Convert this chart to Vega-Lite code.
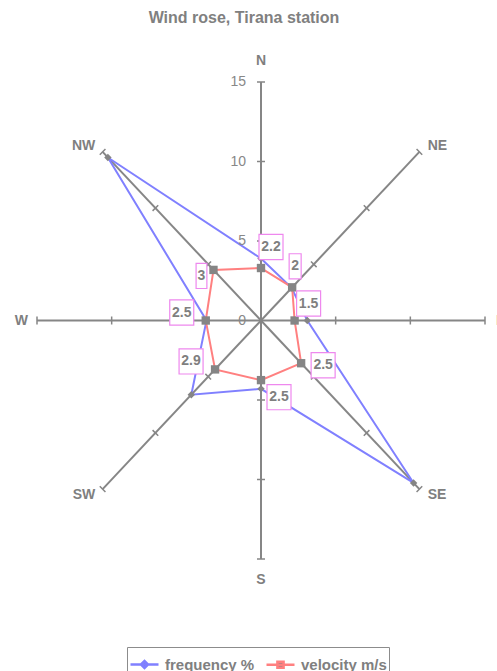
{
  "$schema": "https://vega.github.io/schema/vega-lite/v6.json",
  "width": 448,
  "height": 477,
  "autosize": {"type": "none"},
  "padding": {"left": 37, "top": 82, "right": 12, "bottom": 112},
  "background": "white",
  "config": {"view": {"stroke": null}, "font": "Liberation Sans"},
  "title": {"text": "Wind rose, Tirana station", "fontSize": 16, "fontWeight": "bold", "color": "#808080", "dx": -17, "offset": 28, "font": "Liberation Sans"},
  "datasets": {
    "series": [
      {"dir": "N", "deg": 0, "series": "frequency %", "value": 3.9, "label": ""},
      {"dir": "NE", "deg": 45, "series": "frequency %", "value": 2.9, "label": ""},
      {"dir": "E", "deg": 90, "series": "frequency %", "value": 3.1, "label": ""},
      {"dir": "SE", "deg": 135, "series": "frequency %", "value": 14.45, "label": ""},
      {"dir": "S", "deg": 180, "series": "frequency %", "value": 4.3, "label": ""},
      {"dir": "SW", "deg": 225, "series": "frequency %", "value": 6.6, "label": ""},
      {"dir": "W", "deg": 270, "series": "frequency %", "value": 3.65, "label": ""},
      {"dir": "NW", "deg": 315, "series": "frequency %", "value": 14.5, "label": ""},
      {"dir": "N", "deg": 0, "series": "velocity m/s", "value": 3.3, "label": "2.2"},
      {"dir": "NE", "deg": 45, "series": "velocity m/s", "value": 2.95, "label": "2"},
      {"dir": "E", "deg": 90, "series": "velocity m/s", "value": 2.25, "label": "1.5"},
      {"dir": "SE", "deg": 135, "series": "velocity m/s", "value": 3.8, "label": "2.5"},
      {"dir": "S", "deg": 180, "series": "velocity m/s", "value": 3.75, "label": "2.5"},
      {"dir": "SW", "deg": 225, "series": "velocity m/s", "value": 4.35, "label": "2.9"},
      {"dir": "W", "deg": 270, "series": "velocity m/s", "value": 3.7, "label": "2.5"},
      {"dir": "NW", "deg": 315, "series": "velocity m/s", "value": 4.5, "label": "3"}
    ],
    "dirs": [
      {"dir": "N", "deg": 0}, {"dir": "NE", "deg": 45}, {"dir": "E", "deg": 90}, {"dir": "SE", "deg": 135},
      {"dir": "S", "deg": 180}, {"dir": "SW", "deg": 225}, {"dir": "W", "deg": 270}, {"dir": "NW", "deg": 315}
    ],
    "ticks": [
      {"deg": 0, "r": 5}, {"deg": 0, "r": 10}, {"deg": 0, "r": 15},
      {"deg": 45, "r": 5}, {"deg": 45, "r": 10}, {"deg": 45, "r": 15},
      {"deg": 90, "r": 5}, {"deg": 90, "r": 10}, {"deg": 90, "r": 15},
      {"deg": 135, "r": 5}, {"deg": 135, "r": 10}, {"deg": 135, "r": 15},
      {"deg": 180, "r": 5}, {"deg": 180, "r": 10}, {"deg": 180, "r": 15},
      {"deg": 225, "r": 5}, {"deg": 225, "r": 10}, {"deg": 225, "r": 15},
      {"deg": 270, "r": 5}, {"deg": 270, "r": 10}, {"deg": 270, "r": 15},
      {"deg": 315, "r": 5}, {"deg": 315, "r": 10}, {"deg": 315, "r": 15}
    ],
    "rlabels": [{"r": 0}, {"r": 5}, {"r": 10}, {"r": 15}]
  },
  "data": {"name": "series"},
  "transform": [
    {"calculate": "datum.value*sin(datum.deg*PI/180)", "as": "x"},
    {"calculate": "datum.value*cos(datum.deg*PI/180)", "as": "y"}
  ],
  "layer": [
    {
      "data": {"name": "dirs"},
      "transform": [
        {"calculate": "0", "as": "cx"},
        {"calculate": "15*sin(datum.deg*PI/180)", "as": "ex"},
        {"calculate": "15*cos(datum.deg*PI/180)", "as": "ey"}
      ],
      "mark": {"type": "rule", "color": "#868686", "strokeWidth": 2},
      "encoding": {
        "x": {"field": "cx", "type": "quantitative", "scale": {"domain": [-15, 15], "nice": false, "zero": false}, "axis": null},
        "y": {"field": "cx", "type": "quantitative", "scale": {"domain": [-15, 15], "nice": false, "zero": false}, "axis": null},
        "x2": {"field": "ex"},
        "y2": {"field": "ey"}
      }
    },
    {
      "data": {"name": "ticks"},
      "transform": [
        {"calculate": "datum.r*sin(datum.deg*PI/180)", "as": "tx"},
        {"calculate": "datum.r*cos(datum.deg*PI/180)", "as": "ty"}
      ],
      "mark": {"type": "point", "shape": "M-1,0L1,0", "filled": false, "stroke": "#868686", "strokeWidth": 1.5, "size": 64, "opacity": 1},
      "encoding": {
        "x": {"field": "tx", "type": "quantitative", "scale": {"domain": [-15, 15], "nice": false, "zero": false}, "axis": null},
        "y": {"field": "ty", "type": "quantitative", "scale": {"domain": [-15, 15], "nice": false, "zero": false}, "axis": null},
        "angle": {"field": "deg", "type": "quantitative", "scale": null}
      }
    },
    {
      "mark": {"type": "line", "interpolate": "linear-closed", "strokeWidth": 2},
      "encoding": {
        "x": {"field": "x", "type": "quantitative", "scale": {"domain": [-15, 15], "nice": false, "zero": false}, "axis": null},
        "y": {"field": "y", "type": "quantitative", "scale": {"domain": [-15, 15], "nice": false, "zero": false}, "axis": null},
        "order": {"field": "deg", "type": "quantitative"},
        "color": {
          "field": "series", "type": "nominal",
          "scale": {"domain": ["frequency %", "velocity m/s"], "range": ["#8080ff", "#ff8080"]},
          "legend": {
            "orient": "none", "legendX": 90, "legendY": 565, "direction": "horizontal", "title": null,
            "strokeColor": "#8c8c8c", "padding": 2, "labelFontSize": 15, "labelFontWeight": "bold",
            "labelColor": "#808080", "labelFont": "Liberation Sans", "symbolSize": 784, "symbolStrokeWidth": 2.5,
            "labelOffset": 5, "columnPadding": 6,
            "encode": {"symbols": {"update": {
              "shape": {"signal": "datum.value === 'frequency %' ? 'M-1,0H1M-0.25,0L0,-0.25L0.25,0L0,0.25Z' : 'M-1,0H1M-0.22,-0.22H0.22V0.22H-0.22Z'"},
              "fill": {"value": "#858585"}
            }}}
          }
        }
      }
    },
    {
      "mark": {"type": "point", "filled": true, "color": "#858585", "opacity": 1},
      "encoding": {
        "x": {"field": "x", "type": "quantitative", "scale": {"domain": [-15, 15], "nice": false, "zero": false}, "axis": null},
        "y": {"field": "y", "type": "quantitative", "scale": {"domain": [-15, 15], "nice": false, "zero": false}, "axis": null},
        "shape": {"condition": {"test": "datum.series === 'frequency %'", "value": "diamond"}, "value": "square"},
        "size": {"condition": {"test": "datum.series === 'frequency %'", "value": 55}, "value": 70}
      }
    },
    {
      "transform": [{"filter": "datum.dir === 'N'"}, {"filter": "datum.series === 'velocity m/s'"}],
      "encoding": {
        "x": {"field": "x", "type": "quantitative", "scale": {"domain": [-15, 15], "nice": false, "zero": false}, "axis": null},
        "y": {"field": "y", "type": "quantitative", "scale": {"domain": [-15, 15], "nice": false, "zero": false}, "axis": null}
      },
      "layer": [
        {"mark": {"type": "point", "filled": true, "fill": "white", "stroke": "#ee88ee", "strokeWidth": 1.2, "opacity": 1, "size": 576, "shape": "M-0.1667,-2.8H1.8333V-0.7H-0.1667Z"}},
        {"mark": {"type": "text", "fontSize": 14, "fontWeight": "bold", "color": "#7f7f7f", "align": "center", "baseline": "middle", "dx": 10, "dy": -21},
         "encoding": {"text": {"field": "label", "type": "nominal"}}}
      ]
    },
    {
      "transform": [{"filter": "datum.dir === 'NE'"}, {"filter": "datum.series === 'velocity m/s'"}],
      "encoding": {
        "x": {"field": "x", "type": "quantitative", "scale": {"domain": [-15, 15], "nice": false, "zero": false}, "axis": null},
        "y": {"field": "y", "type": "quantitative", "scale": {"domain": [-15, 15], "nice": false, "zero": false}, "axis": null}
      },
      "layer": [
        {"mark": {"type": "point", "filled": true, "fill": "white", "stroke": "#ee88ee", "strokeWidth": 1.2, "opacity": 1, "size": 576, "shape": "M-0.25,-2.8H0.75V-0.7H-0.25Z"}},
        {"mark": {"type": "text", "fontSize": 14, "fontWeight": "bold", "color": "#7f7f7f", "align": "center", "baseline": "middle", "dx": 3, "dy": -21},
         "encoding": {"text": {"field": "label", "type": "nominal"}}}
      ]
    },
    {
      "transform": [{"filter": "datum.dir === 'E'"}, {"filter": "datum.series === 'velocity m/s'"}],
      "encoding": {
        "x": {"field": "x", "type": "quantitative", "scale": {"domain": [-15, 15], "nice": false, "zero": false}, "axis": null},
        "y": {"field": "y", "type": "quantitative", "scale": {"domain": [-15, 15], "nice": false, "zero": false}, "axis": null}
      },
      "layer": [
        {"mark": {"type": "point", "filled": true, "fill": "white", "stroke": "#ee88ee", "strokeWidth": 1.2, "opacity": 1, "size": 576, "shape": "M0.1667,-2.4667H2.1667V-0.3667H0.1667Z"}},
        {"mark": {"type": "text", "fontSize": 14, "fontWeight": "bold", "color": "#7f7f7f", "align": "center", "baseline": "middle", "dx": 14, "dy": -17},
         "encoding": {"text": {"field": "label", "type": "nominal"}}}
      ]
    },
    {
      "transform": [{"filter": "datum.dir === 'SE'"}, {"filter": "datum.series === 'velocity m/s'"}],
      "encoding": {
        "x": {"field": "x", "type": "quantitative", "scale": {"domain": [-15, 15], "nice": false, "zero": false}, "axis": null},
        "y": {"field": "y", "type": "quantitative", "scale": {"domain": [-15, 15], "nice": false, "zero": false}, "axis": null}
      },
      "layer": [
        {"mark": {"type": "point", "filled": true, "fill": "white", "stroke": "#ee88ee", "strokeWidth": 1.2, "opacity": 1, "size": 576, "shape": "M0.8333,-0.8833H2.8333V1.2167H0.8333Z"}},
        {"mark": {"type": "text", "fontSize": 14, "fontWeight": "bold", "color": "#7f7f7f", "align": "center", "baseline": "middle", "dx": 22, "dy": 2},
         "encoding": {"text": {"field": "label", "type": "nominal"}}}
      ]
    },
    {
      "transform": [{"filter": "datum.dir === 'S'"}, {"filter": "datum.series === 'velocity m/s'"}],
      "encoding": {
        "x": {"field": "x", "type": "quantitative", "scale": {"domain": [-15, 15], "nice": false, "zero": false}, "axis": null},
        "y": {"field": "y", "type": "quantitative", "scale": {"domain": [-15, 15], "nice": false, "zero": false}, "axis": null}
      },
      "layer": [
        {"mark": {"type": "point", "filled": true, "fill": "white", "stroke": "#ee88ee", "strokeWidth": 1.2, "opacity": 1, "size": 576, "shape": "M0.5,0.3667H2.5V2.4667H0.5Z"}},
        {"mark": {"type": "text", "fontSize": 14, "fontWeight": "bold", "color": "#7f7f7f", "align": "center", "baseline": "middle", "dx": 18, "dy": 17},
         "encoding": {"text": {"field": "label", "type": "nominal"}}}
      ]
    },
    {
      "transform": [{"filter": "datum.dir === 'SW' || datum.dir === 'W'"}, {"filter": "datum.series === 'velocity m/s'"}],
      "encoding": {
        "x": {"field": "x", "type": "quantitative", "scale": {"domain": [-15, 15], "nice": false, "zero": false}, "axis": null},
        "y": {"field": "y", "type": "quantitative", "scale": {"domain": [-15, 15], "nice": false, "zero": false}, "axis": null}
      },
      "layer": [
        {"mark": {"type": "point", "filled": true, "fill": "white", "stroke": "#ee88ee", "strokeWidth": 1.2, "opacity": 1, "size": 576, "shape": "M-3,-1.7167H-1V0.3833H-3Z"}},
        {"mark": {"type": "text", "fontSize": 14, "fontWeight": "bold", "color": "#7f7f7f", "align": "center", "baseline": "middle", "dx": -24, "dy": -8},
         "encoding": {"text": {"field": "label", "type": "nominal"}}}
      ]
    },
    {
      "transform": [{"filter": "datum.dir === 'NW'"}, {"filter": "datum.series === 'velocity m/s'"}],
      "encoding": {
        "x": {"field": "x", "type": "quantitative", "scale": {"domain": [-15, 15], "nice": false, "zero": false}, "axis": null},
        "y": {"field": "y", "type": "quantitative", "scale": {"domain": [-15, 15], "nice": false, "zero": false}, "axis": null}
      },
      "layer": [
        {"mark": {"type": "point", "filled": true, "fill": "white", "stroke": "#ee88ee", "strokeWidth": 1.2, "opacity": 1, "size": 576, "shape": "M-1.45,-0.55H-0.55V1.55H-1.45Z"}},
        {"mark": {"type": "text", "fontSize": 14, "fontWeight": "bold", "color": "#7f7f7f", "align": "center", "baseline": "middle", "dx": -12, "dy": 6},
         "encoding": {"text": {"field": "label", "type": "nominal"}}}
      ]
    },
    {
      "data": {"name": "dirs"},
      "transform": [
        {"filter": "datum.deg === 0 || datum.deg === 180"},
        {"calculate": "16.3*sin(datum.deg*PI/180)", "as": "lx"},
        {"calculate": "16.3*cos(datum.deg*PI/180)", "as": "ly"}
      ],
      "mark": {"type": "text", "fontSize": 14, "fontWeight": "bold", "color": "#7f7f7f", "align": "center", "baseline": "middle"},
      "encoding": {
        "x": {"field": "lx", "type": "quantitative", "scale": {"domain": [-15, 15], "nice": false, "zero": false}, "axis": null},
        "y": {"field": "ly", "type": "quantitative", "scale": {"domain": [-15, 15], "nice": false, "zero": false}, "axis": null},
        "text": {"field": "dir", "type": "nominal"}
      }
    },
    {
      "data": {"name": "dirs"},
      "transform": [
        {"filter": "datum.deg === 90 || datum.deg === 270"},
        {"calculate": "16.05*sin(datum.deg*PI/180)", "as": "lx"},
        {"calculate": "16.05*cos(datum.deg*PI/180)", "as": "ly"}
      ],
      "mark": {"type": "text", "fontSize": 14, "fontWeight": "bold", "color": "#7f7f7f", "align": "center", "baseline": "middle"},
      "encoding": {
        "x": {"field": "lx", "type": "quantitative", "scale": {"domain": [-15, 15], "nice": false, "zero": false}, "axis": null},
        "y": {"field": "ly", "type": "quantitative", "scale": {"domain": [-15, 15], "nice": false, "zero": false}, "axis": null},
        "text": {"field": "dir", "type": "nominal"}
      }
    },
    {
      "data": {"name": "dirs"},
      "transform": [
        {"filter": "datum.deg === 45 || datum.deg === 135"},
        {"calculate": "15.5*sin(datum.deg*PI/180)", "as": "lx"},
        {"calculate": "15.5*cos(datum.deg*PI/180)", "as": "ly"}
      ],
      "mark": {"type": "text", "fontSize": 14, "fontWeight": "bold", "color": "#7f7f7f", "align": "left", "baseline": "middle", "dx": 3},
      "encoding": {
        "x": {"field": "lx", "type": "quantitative", "scale": {"domain": [-15, 15], "nice": false, "zero": false}, "axis": null},
        "y": {"field": "ly", "type": "quantitative", "scale": {"domain": [-15, 15], "nice": false, "zero": false}, "axis": null},
        "text": {"field": "dir", "type": "nominal"}
      }
    },
    {
      "data": {"name": "dirs"},
      "transform": [
        {"filter": "datum.deg === 225 || datum.deg === 315"},
        {"calculate": "15.5*sin(datum.deg*PI/180)", "as": "lx"},
        {"calculate": "15.5*cos(datum.deg*PI/180)", "as": "ly"}
      ],
      "mark": {"type": "text", "fontSize": 14, "fontWeight": "bold", "color": "#7f7f7f", "align": "right", "baseline": "middle", "dx": -2},
      "encoding": {
        "x": {"field": "lx", "type": "quantitative", "scale": {"domain": [-15, 15], "nice": false, "zero": false}, "axis": null},
        "y": {"field": "ly", "type": "quantitative", "scale": {"domain": [-15, 15], "nice": false, "zero": false}, "axis": null},
        "text": {"field": "dir", "type": "nominal"}
      }
    },
    {
      "data": {"name": "rlabels"},
      "transform": [{"calculate": "0", "as": "cx"}],
      "mark": {"type": "text", "fontSize": 14, "color": "#888888", "align": "right", "baseline": "middle", "dx": -15},
      "encoding": {
        "x": {"field": "cx", "type": "quantitative", "scale": {"domain": [-15, 15], "nice": false, "zero": false}, "axis": null},
        "y": {"field": "r", "type": "quantitative", "scale": {"domain": [-15, 15], "nice": false, "zero": false}, "axis": null},
        "text": {"field": "r", "type": "quantitative"}
      }
    }
  ]
}
